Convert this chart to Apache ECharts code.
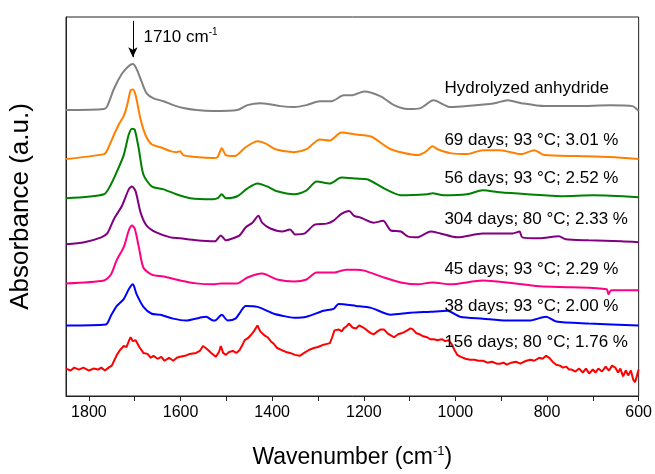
<!DOCTYPE html>
<html>
<head>
<meta charset="utf-8">
<title>FTIR spectra</title>
<script src="https://cdn.jsdelivr.net/npm/echarts@6/dist/echarts.min.js"></script>
<style>
  html, body { margin: 0; padding: 0; background: #fff; }
  #chart { width: 655px; height: 474px; }
</style>
</head>
<body>
<div id="chart"></div>
<script>
// 光谱数据 [wavenumber, absorbance (offset, a.u.)]
const hydrolyzed = [
  [1850, 2.92], [1767, 2.93], [1760, 2.96], [1745, 3.14], [1728, 3.29], [1713, 3.37], [1704, 3.39],
  [1696, 3.34], [1685, 3.21], [1674, 3.09], [1659, 3.04], [1637, 3.01], [1616, 2.97], [1594, 2.94],
  [1566, 2.92], [1529, 2.91], [1476, 2.92], [1454, 2.97], [1426, 2.99], [1406, 2.98], [1382, 2.96],
  [1352, 2.95], [1325, 2.97], [1296, 3.01], [1270, 3.01], [1244, 3.07], [1227, 3.07], [1199, 3.11],
  [1163, 3.06], [1134, 2.97], [1104, 2.93], [1076, 2.94], [1048, 3.02], [1011, 2.95], [975, 2.96],
  [914, 2.99], [886, 3.02], [856, 2.99], [806, 2.96], [735, 2.96], [662, 2.97], [613, 2.96],
  [602, 2.92], [600, 2.91]
]
const d69 = [
  [1850, 2.42], [1767, 2.47], [1760, 2.51], [1745, 2.67], [1735, 2.77], [1724, 2.86], [1717, 2.96],
  [1709, 3.12], [1704, 3.13], [1698, 3.07], [1687, 2.82], [1676, 2.66], [1663, 2.57], [1644, 2.54],
  [1622, 2.50], [1609, 2.49], [1601, 2.50], [1594, 2.46], [1566, 2.44], [1529, 2.43], [1519, 2.44],
  [1510, 2.53], [1501, 2.46], [1482, 2.45], [1458, 2.54], [1432, 2.60], [1415, 2.58], [1393, 2.52],
  [1352, 2.49], [1325, 2.52], [1296, 2.62], [1274, 2.61], [1249, 2.69], [1217, 2.67], [1184, 2.65],
  [1141, 2.52], [1083, 2.46], [1066, 2.49], [1050, 2.55], [1039, 2.52], [1011, 2.48], [975, 2.47],
  [940, 2.51], [903, 2.51], [856, 2.47], [828, 2.51], [806, 2.46], [735, 2.45], [662, 2.44], [600, 2.42]
]
const d56 = [
  [1850, 2.02], [1767, 2.06], [1752, 2.16], [1739, 2.29], [1724, 2.46], [1713, 2.67], [1706, 2.73],
  [1700, 2.72], [1691, 2.52], [1681, 2.26], [1663, 2.14], [1637, 2.11], [1609, 2.06], [1579, 2.02],
  [1529, 2.01], [1519, 2.02], [1510, 2.06], [1501, 2.02], [1476, 2.04], [1454, 2.12], [1432, 2.17],
  [1411, 2.14], [1389, 2.09], [1352, 2.06], [1325, 2.10], [1303, 2.19], [1274, 2.17], [1249, 2.23],
  [1217, 2.22], [1191, 2.21], [1156, 2.12], [1119, 2.05], [1061, 2.06], [1050, 2.07], [1026, 2.05],
  [975, 2.06], [940, 2.10], [903, 2.08], [843, 2.06], [770, 2.04], [698, 2.05], [600, 2.03]
]
const d304 = [
  [1850, 1.55], [1810, 1.57], [1773, 1.62], [1760, 1.66], [1745, 1.81], [1728, 1.94], [1713, 2.11],
  [1706, 2.14], [1698, 2.09], [1687, 1.87], [1674, 1.74], [1653, 1.67], [1622, 1.62], [1601, 1.61],
  [1566, 1.59], [1525, 1.58], [1512, 1.64], [1501, 1.59], [1486, 1.61], [1471, 1.64], [1458, 1.72],
  [1443, 1.77], [1430, 1.84], [1422, 1.77], [1404, 1.71], [1378, 1.68], [1361, 1.70], [1350, 1.65],
  [1329, 1.66], [1307, 1.75], [1281, 1.76], [1266, 1.79], [1249, 1.86], [1232, 1.89], [1221, 1.84],
  [1206, 1.82], [1178, 1.77], [1158, 1.79], [1141, 1.69], [1119, 1.68], [1104, 1.63], [1083, 1.62],
  [1054, 1.68], [1033, 1.66], [996, 1.62], [940, 1.66], [875, 1.66], [860, 1.68], [854, 1.62],
  [817, 1.61], [774, 1.63], [759, 1.60], [709, 1.59], [638, 1.58], [600, 1.57]
]
const d45 = [
  [1850, 1.15], [1767, 1.18], [1752, 1.24], [1739, 1.39], [1724, 1.52], [1713, 1.69], [1706, 1.74],
  [1700, 1.71], [1691, 1.52], [1681, 1.31], [1663, 1.24], [1637, 1.22], [1601, 1.18], [1566, 1.15],
  [1529, 1.14], [1512, 1.15], [1476, 1.15], [1454, 1.21], [1422, 1.25], [1389, 1.19], [1352, 1.17],
  [1325, 1.19], [1303, 1.26], [1266, 1.26], [1238, 1.29], [1217, 1.29], [1199, 1.28], [1156, 1.21],
  [1119, 1.16], [1083, 1.14], [1050, 1.16], [1011, 1.14], [940, 1.18], [888, 1.16], [817, 1.12],
  [746, 1.11], [670, 1.09], [666, 1.04], [660, 1.08], [600, 1.08]
]
const d38 = [
  [1850, 0.72], [1763, 0.73], [1752, 0.82], [1739, 0.92], [1724, 0.99], [1713, 1.09], [1704, 1.14],
  [1696, 1.04], [1681, 0.91], [1663, 0.84], [1644, 0.83], [1616, 0.79], [1588, 0.77], [1558, 0.80],
  [1544, 0.81], [1529, 0.77], [1525, 0.77], [1510, 0.83], [1497, 0.77], [1480, 0.79], [1469, 0.86],
  [1458, 0.92], [1432, 0.91], [1396, 0.84], [1378, 0.82], [1352, 0.80], [1325, 0.81], [1288, 0.87],
  [1266, 0.89], [1255, 0.94], [1217, 0.92], [1184, 0.90], [1141, 0.83], [1098, 0.85], [1054, 0.86],
  [1018, 0.87], [990, 0.81], [940, 0.79], [888, 0.77], [839, 0.77], [802, 0.81], [780, 0.76],
  [709, 0.74], [600, 0.72]
]
const d156 = [
  [1850, 0.28], [1840, 0.26], [1832, 0.29], [1822, 0.27], [1812, 0.29], [1800, 0.26], [1790, 0.28],
  [1780, 0.27], [1773, 0.29], [1765, 0.26], [1757, 0.29], [1750, 0.31], [1745, 0.36], [1739, 0.42],
  [1732, 0.47], [1724, 0.51], [1718, 0.50], [1712, 0.57], [1709, 0.60], [1704, 0.56], [1698, 0.57],
  [1690, 0.50], [1681, 0.44], [1672, 0.43], [1665, 0.39], [1659, 0.41], [1650, 0.38], [1642, 0.40],
  [1635, 0.36], [1625, 0.39], [1616, 0.36], [1608, 0.39], [1601, 0.40], [1590, 0.41], [1580, 0.43],
  [1566, 0.44], [1558, 0.46], [1551, 0.51], [1545, 0.49], [1540, 0.47], [1533, 0.44], [1529, 0.42],
  [1523, 0.40], [1516, 0.45], [1512, 0.51], [1507, 0.44], [1501, 0.42], [1494, 0.45], [1486, 0.46],
  [1478, 0.44], [1471, 0.47], [1465, 0.52], [1460, 0.57], [1453, 0.59], [1447, 0.62], [1440, 0.66],
  [1432, 0.72], [1426, 0.66], [1417, 0.62], [1410, 0.60], [1403, 0.56], [1396, 0.53], [1389, 0.49],
  [1380, 0.47], [1370, 0.45], [1361, 0.44], [1350, 0.42], [1340, 0.41], [1330, 0.44], [1320, 0.47],
  [1309, 0.49], [1300, 0.50], [1290, 0.52], [1282, 0.53], [1274, 0.54], [1269, 0.60], [1264, 0.67],
  [1255, 0.68], [1248, 0.66], [1244, 0.69], [1238, 0.71], [1232, 0.74], [1225, 0.70], [1217, 0.69],
  [1210, 0.72], [1206, 0.71], [1198, 0.69], [1190, 0.66], [1184, 0.64], [1178, 0.63], [1170, 0.66],
  [1163, 0.68], [1156, 0.68], [1148, 0.64], [1141, 0.62], [1134, 0.60], [1125, 0.63], [1118, 0.64],
  [1113, 0.65], [1105, 0.67], [1098, 0.69], [1093, 0.68], [1085, 0.64], [1078, 0.63], [1070, 0.61],
  [1062, 0.60], [1055, 0.58], [1047, 0.58], [1039, 0.57], [1030, 0.58], [1022, 0.56], [1015, 0.57],
  [1008, 0.53], [1002, 0.47], [996, 0.42], [988, 0.40], [978, 0.38], [968, 0.37], [958, 0.37],
  [950, 0.36], [940, 0.36], [930, 0.34], [920, 0.35], [910, 0.33], [903, 0.33], [895, 0.34],
  [888, 0.32], [878, 0.34], [868, 0.35], [858, 0.33], [850, 0.35], [845, 0.36], [836, 0.37],
  [828, 0.36], [817, 0.39], [810, 0.38], [802, 0.41], [795, 0.39], [788, 0.35], [780, 0.32],
  [772, 0.31], [765, 0.29], [758, 0.30], [752, 0.27], [746, 0.27], [738, 0.25], [730, 0.28],
  [722, 0.24], [715, 0.28], [708, 0.23], [700, 0.27], [694, 0.24], [688, 0.28], [680, 0.25],
  [672, 0.30], [665, 0.26], [658, 0.31], [651, 0.29], [645, 0.24], [640, 0.28], [634, 0.20],
  [628, 0.26], [623, 0.21], [617, 0.26], [612, 0.17], [608, 0.14], [604, 0.20], [602, 0.24], [600, 0.27]
]

// 图例文字及其位置 (数据坐标)
const seriesNames = [
  'Hydrolyzed anhydride',
  '69 days; 93 °C; 3.01 %',
  '56 days; 93 °C; 2.52 %',
  '304 days; 80 °C; 2.33 %',
  '45 days; 93 °C; 2.29 %',
  '38 days; 93 °C; 2.00 %',
  '156 days; 80 °C; 1.76 %'
]
const seriesData = [hydrolyzed, d69, d56, d304, d45, d38, d156]
const colors = ['#808080', '#ff8000', '#008000', '#800080', '#ff0080', '#0000ff', '#ff0000']
const labelX = 1024
const labelY = [3.14, 2.61, 2.22, 1.80, 1.29, 0.92, 0.55]

// 坐标轴刻度
const tickValues = [1800, 1700, 1600, 1500, 1400, 1300, 1200, 1100, 1000, 900, 800, 700, 600]
const labelValues = [1800, 1600, 1400, 1200, 1000, 800, 600]

// 1710 cm-1 箭头
const peakWave = 1704
const arrowFrom = 3.83
const arrowTo = 3.46

const FONT = 'Liberation Sans, Arial, sans-serif'

const chart = echarts.init(document.getElementById('chart'))

const series = seriesData.map((data, i) => ({
  name: seriesNames[i],
  type: 'line',
  data: data,
  showSymbol: false,
  symbol: 'none',
  smooth: i === 6 ? false : 0.25, // 最下面的谱线噪声较大，不做平滑
  lineStyle: { width: 2, color: colors[i] },
  itemStyle: { color: colors[i] },
  markPoint: {
    symbol: 'circle',
    symbolSize: 0,
    silent: true,
    label: {
      show: true,
      position: 'right',
      distance: 0,
      color: '#000',
      fontSize: 17,
      fontFamily: FONT,
      formatter: seriesNames[i]
    },
    data: [{ coord: [labelX, labelY[i]] }]
  }
}))

// 箭头与标注
series[0].markLine = {
  silent: true,
  symbol: ['none', 'arrow'],
  symbolSize: [7, 10],
  lineStyle: { color: '#000', width: 1, type: 'solid' },
  label: { show: false },
  data: [[{ coord: [peakWave, arrowFrom] }, { coord: [peakWave, arrowTo] }]]
}
series[0].markPoint.data.push({
  coord: [1681, 3.66],
  label: {
    show: true,
    position: 'right',
    distance: 0,
    color: '#000',
    fontSize: 17,
    fontFamily: FONT,
    formatter: '1710 cm{sup|-1}',
    rich: {
      sup: { fontSize: 10, verticalAlign: 'top', padding: [0, 0, 10, 0], fontFamily: FONT }
    }
  }
})

const option = {
  animation: false,
  backgroundColor: '#fff',
  grid: {
    left: 62,
    right: 14,
    top: 17,
    bottom: 70,
    show: true,
    borderColor: '#222',
    borderWidth: 1
  },
  xAxis: {
    type: 'value',
    min: 600,
    max: 1850,
    inverse: true,
    name: 'Wavenumber (cm{sup|-1})',
    nameLocation: 'middle',
    nameGap: 49,
    nameTextStyle: {
      fontSize: 23,
      color: '#000',
      fontFamily: FONT,
      rich: {
        sup: { fontSize: 13, verticalAlign: 'top', padding: [0, 0, 12, 0], color: '#000', fontFamily: FONT }
      }
    },
    axisLine: { show: true, lineStyle: { color: '#222', width: 1 } },
    axisTick: {
      show: true,
      length: 5,
      inside: false,
      customValues: tickValues,
      lineStyle: { color: '#222' }
    },
    axisLabel: {
      show: true,
      customValues: labelValues,
      margin: 9,
      fontSize: 16,
      color: '#000',
      fontFamily: FONT,
      formatter: (v) => String(v)
    },
    splitLine: { show: false }
  },
  yAxis: {
    type: 'value',
    min: 0,
    max: 3.87,
    name: 'Absorbance (a.u.)',
    nameLocation: 'middle',
    nameGap: 32,
    nameTextStyle: {
      fontSize: 26,
      color: '#000',
      fontFamily: FONT
    },
    axisLine: { show: true, lineStyle: { color: '#222' } },
    axisTick: { show: false },
    axisLabel: { show: false },
    splitLine: { show: false }
  },
  series: series
}

chart.setOption(option)
</script>
</body>
</html>
